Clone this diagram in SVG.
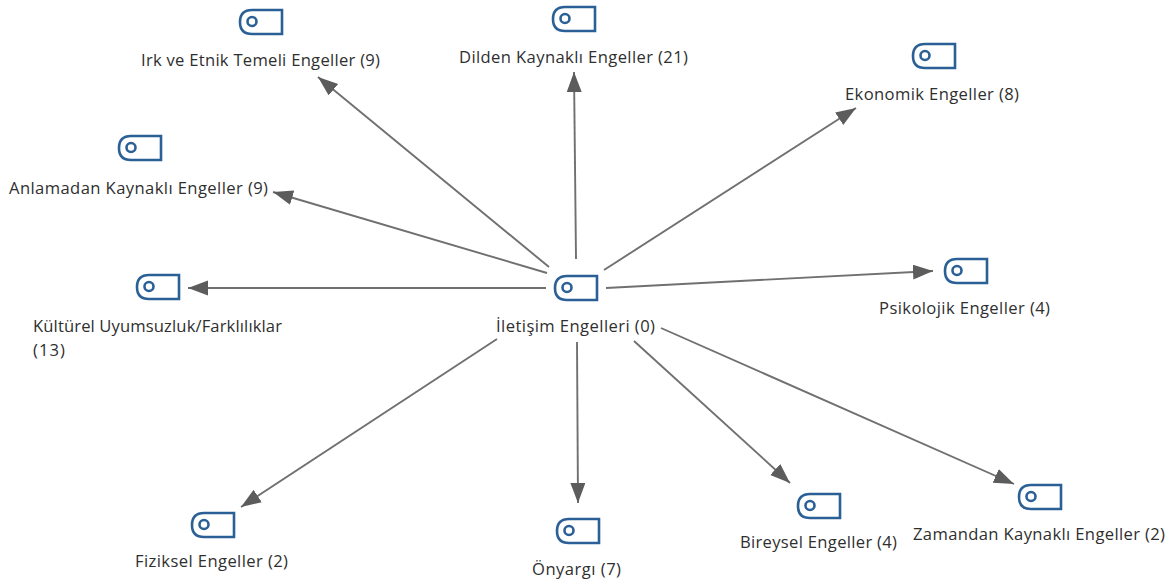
<svg xmlns="http://www.w3.org/2000/svg" width="1176" height="585" viewBox="0 0 1176 585">
<style>
text{font-family:"Open Sans","Noto Sans","Liberation Sans",sans-serif;font-size:16.6px;fill:#2f2f2f}
.i{fill:none;stroke:#2a6096;stroke-width:2.6}
.c{stroke:#707070;stroke-width:1.9;fill:none;marker-end:url(#a)}
</style>
<defs>
<marker id="a" markerUnits="userSpaceOnUse" markerWidth="24" markerHeight="16" refX="20" refY="7.5" orient="auto"><path d="M0 0L20 7.5L0 15Z" fill="#5c5c5c"/></marker>
<g id="icon"><path class="i" d="M43 1H13Q1 1 1 13Q1 25 13 25H43Z"/><circle class="i" cx="13" cy="12.5" r="4.5"/></g>
</defs>
<rect width="1176" height="585" fill="#fff"/>
<g id="connectors">
<path class="c" d="M549 267L318 77"/>
<path class="c" d="M576 259L574 72"/>
<path class="c" d="M604 270L856 108"/>
<path class="c" d="M547 273L273 192"/>
<path class="c" d="M546 288L188 288"/>
<path class="c" d="M606 288L933 271"/>
<path class="c" d="M497 339L241 507"/>
<path class="c" d="M577 342L578 503"/>
<path class="c" d="M634 341L790 483"/>
<path class="c" d="M661 328L1014 484"/>
</g>
<g id="n0"><use href="#icon" x="554" y="275"/><text x="496" y="332" textLength="159">İletişim Engelleri (0)</text></g>
<g id="n1"><use href="#icon" x="239" y="9"/><text x="141" y="66" textLength="239">Irk ve Etnik Temeli Engeller (9)</text></g>
<g id="n2"><use href="#icon" x="552" y="6"/><text x="459" y="63" textLength="229">Dilden Kaynaklı Engeller (21)</text></g>
<g id="n3"><use href="#icon" x="912" y="43"/><text x="845" y="100" textLength="174">Ekonomik Engeller (8)</text></g>
<g id="n4"><use href="#icon" x="118" y="135"/><text x="9" y="194" textLength="259">Anlamadan Kaynaklı Engeller (9)</text></g>
<g id="n5"><use href="#icon" x="136" y="274"/><text x="33" y="332" textLength="249">Kültürel Uyumsuzluk/Farklılıklar</text><text x="33" y="356" textLength="32">(13)</text></g>
<g id="n6"><use href="#icon" x="944" y="258"/><text x="879" y="314" textLength="171">Psikolojik Engeller (4)</text></g>
<g id="n7"><use href="#icon" x="191" y="512"/><text x="135" y="567" textLength="153">Fiziksel Engeller (2)</text></g>
<g id="n8"><use href="#icon" x="556" y="518"/><text x="532" y="575" textLength="89">Önyargı (7)</text></g>
<g id="n9"><use href="#icon" x="797" y="493"/><text x="740" y="548" textLength="157">Bireysel Engeller (4)</text></g>
<g id="n10"><use href="#icon" x="1018" y="484"/><text x="913" y="540" textLength="252">Zamandan Kaynaklı Engeller (2)</text></g>
</svg>
